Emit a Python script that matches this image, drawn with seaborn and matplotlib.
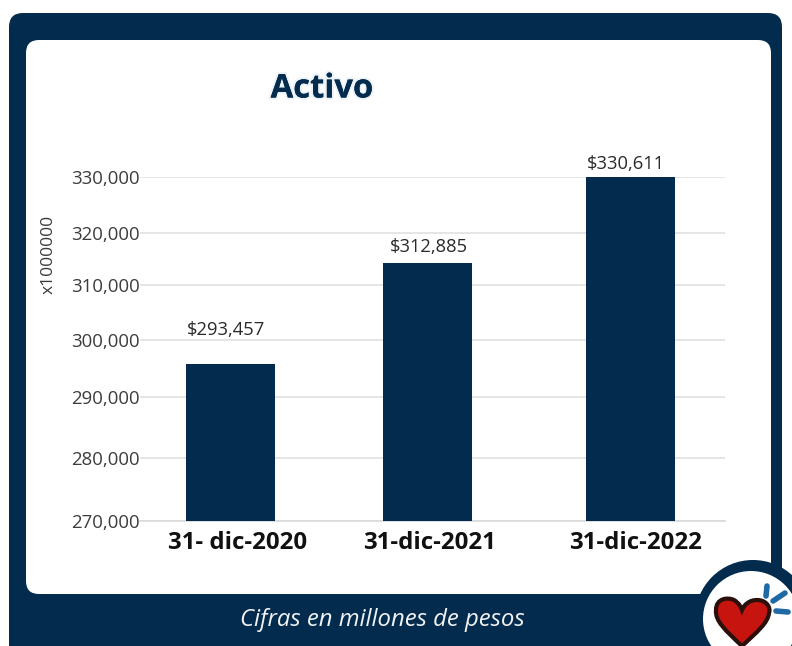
import matplotlib
matplotlib.use("Agg")
import matplotlib.pyplot as plt
import seaborn as sns
import pandas as pd
import matplotlib.patheffects as pe
from matplotlib.patches import FancyBboxPatch, Circle, PathPatch
from matplotlib.path import Path
from matplotlib.transforms import ScaledTranslation

# Data
categories = ["31- dic-2020", "31-dic-2021", "31-dic-2022"]
bar_slots = [0.0, 1.0, 2.033]           # the bars are not quite evenly spaced
bar_values = [297400, 315000, 330000]   # drawn heights
value_labels = ["$293,457", "$312,885", "$330,611"]
label_lifts_px = [36, 18, 15]
label_shifts_px = [-5, 1, -5]
cat_label_shifts_px = [7, 2, 5]
tick_labels = ["270,000", "280,000", "290,000", "300,000", "310,000", "320,000", "330,000"]
tick_places = [270000, 281000, 291600, 301570, 311160, 320200, 330000]  # hand-drawn spacing

NAVY = "#022b4e"
W, H = 792, 646

sns.set_theme(style="white")
plt.rcParams["font.family"] = ["Open Sans", "DejaVu Sans"]

fig = plt.figure(figsize=(W / 100, H / 100), dpi=100, facecolor="white")

# Background layer, in pixel coordinates
bg = fig.add_axes([0, 0, 1, 1], zorder=0)
bg.set_xlim(0, W); bg.set_ylim(H, 0); bg.axis("off")
bg.add_patch(FancyBboxPatch((21, 25), 749, 640, boxstyle="round,pad=12,rounding_size=14",
                            fc=NAVY, ec="none"))
bg.add_patch(FancyBboxPatch((38, 52), 721, 530, boxstyle="round,pad=12,rounding_size=13",
                            fc="white", ec="none"))

# Chart
ax = fig.add_axes([140 / W, 1 - 521 / H, (725 - 140) / W, (521 - 177) / H], zorder=1)
ax.patch.set_alpha(0)
df = pd.DataFrame({"slot": bar_slots, "value": bar_values})
sns.barplot(data=df, x="slot", y="value", native_scale=True, width=0.453,
            color=NAVY, saturation=1, ax=ax, zorder=3, linewidth=0)
ax.set_xlim(-0.463, 2.514)
ax.set_ylim(270000, 330000)
ax.set_yticks(tick_places, tick_labels)
ax.set_xticks(bar_slots, categories)
ax.set_xlabel(""); ax.set_ylabel("")
for s in ["top", "right", "left"]:
    ax.spines[s].set_visible(False)
ax.spines["bottom"].set_color("#d9d9d9")
ax.spines["bottom"].set_linewidth(1.2)
ax.grid(axis="y", color="#e0e0e0", lw=1.2, zorder=0)
ax.set_axisbelow(True)
ax.tick_params(axis="y", length=0, pad=0, labelsize=13.4, labelcolor="#3c3c3c")
ax.tick_params(axis="x", length=0, pad=7, labelsize=17.3)
for lab, dx in zip(ax.get_xticklabels(), cat_label_shifts_px):
    lab.set_fontweight("bold")
    lab.set_color("#111111")
    lab.set_transform(lab.get_transform() + ScaledTranslation(dx / 100, 0, fig.dpi_scale_trans))
for x, v, txt, lift, dx in zip(bar_slots, bar_values, value_labels, label_lifts_px, label_shifts_px):
    ax.annotate(txt, (x, v), xytext=(dx * 0.72, (lift - 2) * 0.72), textcoords="offset points",
                ha="center", va="center", fontsize=13.2, color="#2a2a2a", annotation_clip=False)

# Overlay: titles, footer and badge
top = fig.add_axes([0, 0, 1, 1], zorder=2)
top.set_xlim(0, W); top.set_ylim(H, 0); top.axis("off")
top.text(322, 89, "Activo", ha="center", va="center", fontsize=23.6, fontweight="bold", color=NAVY,
         path_effects=[pe.withStroke(linewidth=3, foreground="#dbe7f1", alpha=0.5), pe.Normal()])
top.text(49, 254, "x1000000", rotation=90, ha="center", va="center", fontsize=12.6, color="#3c3c3c")
top.text(382, 620, "Cifras en millones de pesos", ha="center", va="center", fontsize=17.2,
         style="italic", color="#f2f2f2")

top.add_patch(Circle((753, 618), 58, fc=NAVY, ec="none"))
top.add_patch(Circle((751, 619), 48, fc="white", ec="none"))
verts = [(742, 646), (725, 630), (715, 621), (716, 610), (716, 598), (728, 597), (734, 600),
         (739, 603), (741, 607), (742, 610), (744, 605), (749, 600), (757, 600), (767, 600),
         (771, 608), (769, 613), (768, 623), (757, 632), (742, 646)]
codes = [Path.MOVETO] + [Path.CURVE4] * 18
top.add_patch(PathPatch(Path(verts, codes), fc="#c8140f", ec="#2a0f0a", lw=3))
for (a, b) in [((766, 596), (767, 586)), ((773, 601), (785, 593)), ((776, 611), (788, 612))]:
    top.plot([a[0], b[0]], [a[1], b[1]], color="#1f6aa5", lw=4, solid_capstyle="round")

fig.savefig("out.png", dpi=100)
